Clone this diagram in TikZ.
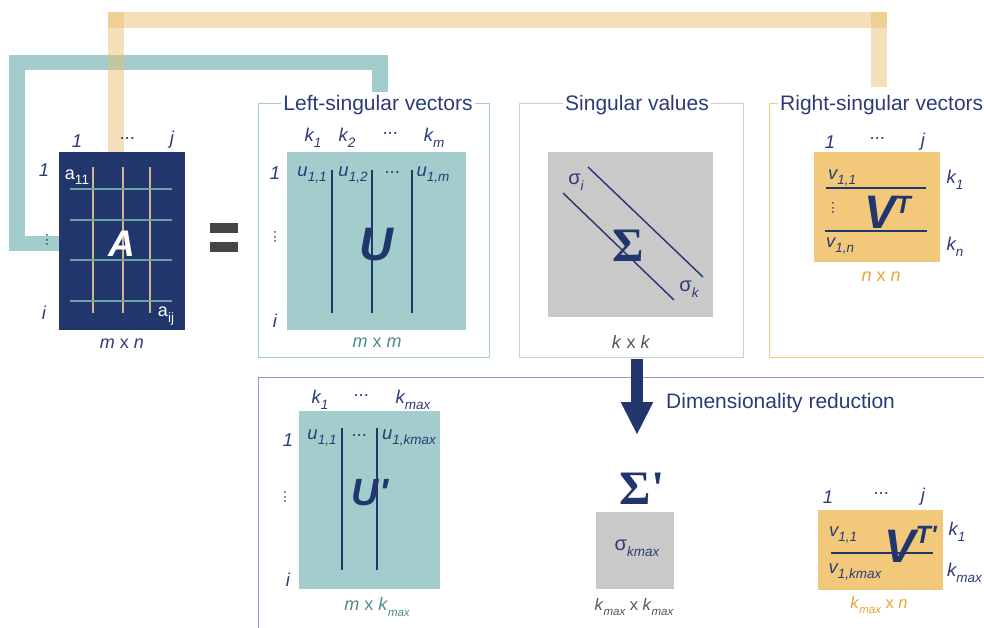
\documentclass[tikz,border=0pt]{standalone}
\usepackage{fontspec}
\setmainfont{Liberation Sans}
\newfontfamily\serifgr{Liberation Serif}
\usetikzlibrary{arrows.meta}
\definecolor{navy}{HTML}{22366E}
\definecolor{navytext}{HTML}{2B3C78}
\definecolor{tealf}{HTML}{A3CCCC}
\definecolor{tealtext}{HTML}{4E8C8C}
\definecolor{orangef}{HTML}{F2C97A}
\definecolor{orangetext}{HTML}{E8A530}
\definecolor{orangecon}{HTML}{EBBF71}
\definecolor{grayf}{HTML}{C9C9C9}
\definecolor{grayframe}{HTML}{CFCFCF}
\definecolor{botframe}{HTML}{8E9AC4}
\definecolor{eqgray}{HTML}{454545}
\definecolor{dimgray}{HTML}{555555}
\definecolor{gridtan}{HTML}{CDB88C}
\definecolor{gridteal}{HTML}{6FA3A3}
\newcommand\ls[1]{\raisebox{-0.3em}{\fontsize{13.5}{13.5}\selectfont #1}}
\newcommand\ds[1]{\raisebox{-0.3em}{\fontsize{11.5}{11.5}\selectfont #1}}
\begin{document}
\begin{tikzpicture}[x=1pt,y=-1pt,
  mat/.style={rectangle,draw=none,inner sep=0pt},
  framebox/.style={rectangle,fill=none,inner sep=0pt,line width=1pt},
  titlelab/.style={fill=white,inner sep=2pt,text=navytext,font=\fontsize{21}{21}\selectfont},
  lab/.style={inner sep=0pt,text=navytext,font=\fontsize{18.5}{18.5}\selectfont\itshape},
  dimlab/.style={inner sep=0pt,font=\fontsize{18}{18}\selectfont},
  vdots/.style={lab,rotate=90,font=\fontsize{15}{15}\selectfont},
  big/.style={inner sep=0pt,text=navy,font=\bfseries\itshape},
  tealcon/.style={draw=tealf,line width=15.5pt,line join=miter,line cap=butt},
  orcon/.style={draw=orangecon,draw opacity=0.5,line width=16pt,line cap=butt},
  vline/.style={draw=navy,line width=1.2pt},
  eqbar/.style={rectangle,fill=eqgray,inner sep=0pt,minimum width=28pt,minimum height=10pt}
]
\useasboundingbox (0,0) rectangle (984,627);

% ---------- matrix A ----------
\node[mat,fill=navy,minimum width=126pt,minimum height=178pt] (A) at (122,241) {};

% ---------- connectors (behind) ----------
\coordinate (Ltop) at (380,92);
\coordinate (Rtop) at (879,87);
\coordinate (Abend) at (116,12);
\draw[tealcon] ([yshift=-2.5pt]A.west) -| (17,62.5) -| (Ltop);
\draw[orcon] ([xshift=-6pt]A.north) -- (Abend);
\draw[orcon] (108,19.5) -- (887,19.5);
\draw[orcon] (879,12) -- (Rtop);

% grid of A
\foreach \gx in {93,123,150} \draw[gridtan,line width=1.4pt] (\gx,167) -- (\gx,313);
\foreach \gy in {189,220,260,301} \draw[gridteal,line width=1.4pt] (70,\gy) -- (172,\gy);
\node[inner sep=0pt,text=white,font=\fontsize{37}{37}\selectfont\bfseries\itshape] (Aname) at (122,244) {A};
\node[inner sep=0pt,text=white,font=\fontsize{18}{18}\selectfont] (a11) at (77,177) {a\ls{11}};
\node[inner sep=0pt,text=white,font=\fontsize{18}{18}\selectfont] (aij) at (166,316) {a\ls{ij}};
\node[lab] (Ac1) at (77,141) {1};
\node[lab] (Acd) at (128,139) {...};
\node[lab] (Acj) at (172,140) {j};
\node[lab] (Ar1) at (44,170) {1};
\node[vdots] (Ard) at (47,240) {...};
\node[lab] (Ari) at (44,313) {i};
\node[dimlab,text=navytext] (Adim) at (122,344) {\textit{m} x \textit{n}};

% ---------- equals ----------
\node[eqbar] (eq1) at (224,228) {};
\node[eqbar] (eq2) at (224,247) {};

% ---------- Left-singular vectors ----------
\node[framebox,draw=tealf,minimum width=231pt,minimum height=254pt] (Lbox) at (373.5,230) {};
\node[titlelab] (Ltitle) at (378,105) {Left-singular vectors};
\node[mat,fill=tealf,minimum width=179pt,minimum height=178pt] (U) at (376.5,241) {};
\foreach \ux in {332,372,412} \draw[vline] (\ux,170) -- (\ux,313);
\node[big,font=\fontsize{47}{47}\selectfont\bfseries\itshape] (Uname) at (376,245) {U};
\node[lab] (Uk1) at (313,138) {k\ls{1}};
\node[lab] (Uk2) at (347,138) {k\ls{2}};
\node[lab] (Ukd) at (391,134) {...};
\node[lab] (Ukm) at (434,138) {k\ls{m}};
\node[lab] (Ur1) at (275,173) {1};
\node[vdots] (Urd) at (275,237) {...};
\node[lab] (Uri) at (275,321) {i};
\node[lab] (U11) at (312,175) {u\ls{1,1}};
\node[lab] (U12) at (353,175) {u\ls{1,2}};
\node[lab] (U1d) at (393,173) {...};
\node[lab] (U1m) at (433,175) {u\ls{1,m}};
\node[dimlab,text=tealtext] (Udim) at (377,343) {\textit{m} x \textit{m}};

% ---------- Singular values ----------
\node[framebox,draw=grayframe,minimum width=224pt,minimum height=254pt] (Sbox) at (631,230) {};
\node[titlelab] (Stitle) at (637,105) {Singular values};
\node[mat,fill=grayf,minimum width=165pt,minimum height=165pt] (S) at (630.5,234.5) {};
\draw[navy,line width=1.4pt] (588,167) -- (703,277);
\draw[navy,line width=1.4pt] (563,193) -- (674,300);
\node[inner sep=0pt,text=navy,font=\fontsize{48}{48}\selectfont\serifgr\bfseries] (Sname) at (628,246) {Σ};
\node[lab,font=\fontsize{20}{20}\selectfont] (si) at (576,182) {σ\ls{\itshape i}};
\node[lab,font=\fontsize{20}{20}\selectfont] (sk) at (689,289) {σ\ls{\itshape k}};
\node[dimlab,text=dimgray] (Sdim) at (631,342) {\textit{k} x \textit{k}};

% ---------- Right-singular vectors ----------
\draw[orangef,line width=1pt] (995,103) -- (769,103) -- (769,357) -- (995,357);
\node[titlelab,anchor=west] (Rtitle) at (778,105) {Right-singular vectors};
\node[mat,fill=orangef,minimum width=126pt,minimum height=110pt] (V) at (877,207) {};
\draw[vline] (826,188) -- (926,188);
\draw[vline] (825,231) -- (927,231);
\node[big,anchor=base west,font=\fontsize{47}{47}\selectfont\bfseries\itshape] (Vname) at (864,228) {V\raisebox{15pt}{\fontsize{25}{25}\selectfont T}};
\node[lab] (Vc1) at (830,142) {1};
\node[lab] (Vcd) at (878,139) {...};
\node[lab] (Vcj) at (923,142) {j};
\node[lab] (V11) at (842,178) {v\ls{1,1}};
\node[vdots] (Vd) at (833,208) {...};
\node[lab] (V1n) at (840,246) {v\ls{1,n}};
\node[lab] (Vk1) at (955,180) {k\ls{1}};
\node[lab] (Vkn) at (955,247) {k\ls{n}};
\node[dimlab,text=orangetext] (Vdim) at (881,277) {\textit{n} x \textit{n}};

% ---------- bottom panel ----------
\draw[botframe,line width=1pt] (995,377) -- (258,377) -- (258,640);
\coordinate (arrEnd) at (637,435);
\draw[navy,line width=12pt,-{Triangle[width=30pt,length=33pt]}] ([xshift=6pt,yshift=-1pt]Sbox.south) -- (arrEnd);
\node[inner sep=0pt,anchor=west,text=navytext,font=\fontsize{21}{21}\selectfont] (dimred) at (666,403) {Dimensionality reduction};

% U'
\node[mat,fill=tealf,minimum width=141pt,minimum height=178pt] (Up) at (369.5,500) {};
\draw[vline] (342,428) -- (342,570);
\draw[vline] (377,428) -- (377,570);
\node[big,font=\fontsize{38}{38}\selectfont\bfseries\itshape] (Upname) at (370,493) {U\textquotesingle};
\node[lab] (Upk1) at (320,400) {k\ls{1}};
\node[lab] (Upkd) at (362,396) {...};
\node[lab] (Upkm) at (413,400) {k\ls{max}};
\node[lab] (Upr1) at (288,440) {1};
\node[vdots] (Uprd) at (285,497) {...};
\node[lab] (Upri) at (288,580) {i};
\node[lab] (Up11) at (322,438) {u\ls{1,1}};
\node[lab] (Up1d) at (360,436) {...};
\node[lab] (Up1m) at (409,438) {u\ls{1,kmax}};
\node[dimlab,text=tealtext] (Updim) at (377,607) {\textit{m} x \textit{k}\ds{\itshape max}};

% Sigma'
\node[inner sep=0pt,text=navy,font=\fontsize{48}{48}\selectfont\serifgr\bfseries] (Spname) at (642,489) {Σ\textquotesingle};
\node[mat,fill=grayf,minimum width=78pt,minimum height=77pt] (Sp) at (635,550.5) {};
\node[lab,font=\fontsize{20}{20}\selectfont] (spk) at (637,548) {σ\ls{\itshape kmax}};
\node[dimlab,text=dimgray,font=\fontsize{16.5}{16.5}\selectfont] (Spdim) at (634,607) {\textit{k}\ds{\itshape max} x \textit{k}\ds{\itshape max}};

% V^T'
\node[mat,fill=orangef,minimum width=125pt,minimum height=80pt] (Vp) at (880.5,550) {};
\draw[vline] (831,553) -- (933,553);
\node[big,anchor=base west,font=\fontsize{47}{47}\selectfont\bfseries\itshape] (Vpname) at (884,562) {V\raisebox{19pt}{\fontsize{25}{25}\selectfont T\textquotesingle}};
\node[lab] (Vpc1) at (828,497) {1};
\node[lab] (Vpcd) at (882,494) {...};
\node[lab] (Vpcj) at (923,497) {j};
\node[lab] (Vp11) at (843,535) {v\ls{1,1}};
\node[lab] (Vp1k) at (855,572) {v\ls{1,kmax}};
\node[lab] (Vpk1) at (957,532) {k\ls{1}};
\node[lab,anchor=west] (Vpkm) at (947,573) {k\ls{max}};
\node[dimlab,text=orangetext,font=\fontsize{16.5}{16.5}\selectfont] (Vpdim) at (879,605) {\textit{k}\ds{\itshape max} x \textit{n}};
\end{tikzpicture}
\end{document}
